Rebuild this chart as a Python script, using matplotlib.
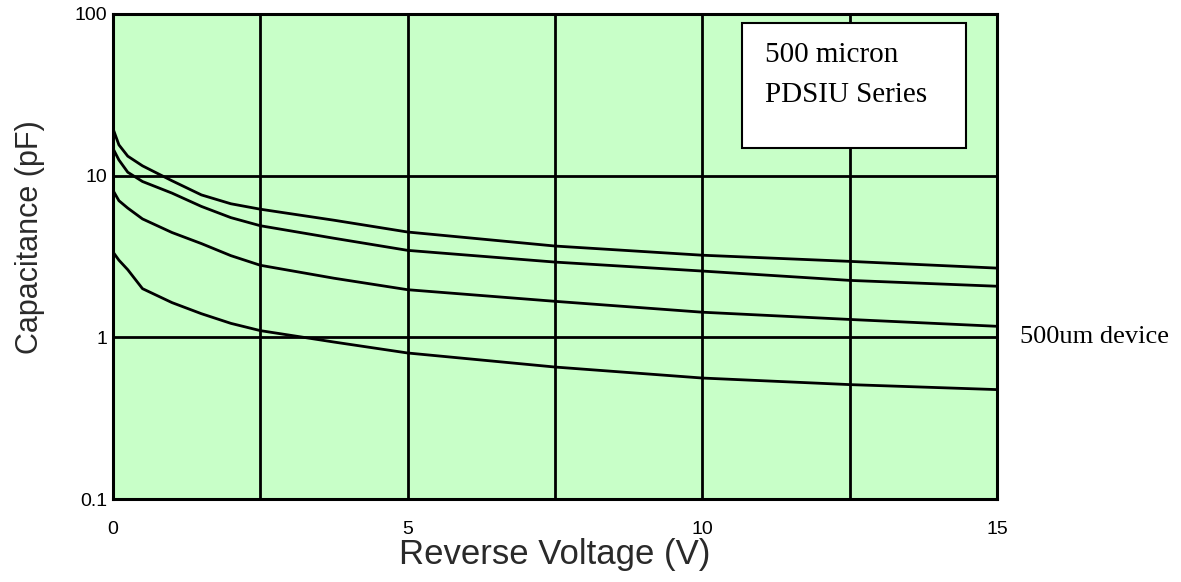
import numpy as np
import matplotlib.pyplot as plt
from matplotlib.patches import Rectangle

# reverse voltage (V) and capacitance (pF)
voltage = [0, 0.1, 0.25, 0.5, 1, 1.5, 2, 2.5, 3.75, 5, 7.5, 10, 12.5, 15]
cap_a = [19.5, 15.5, 13.2, 11.5, 9.3, 7.6, 6.7, 6.2, 5.3, 4.48, 3.67, 3.22, 2.95, 2.68]
cap_b = [14.7, 12.5, 10.5, 9.2, 7.8, 6.45, 5.5, 4.9, 4.1, 3.45, 2.92, 2.57, 2.25, 2.07]
cap_c = [8.1, 7.0, 6.3, 5.4, 4.45, 3.8, 3.2, 2.79, 2.32, 1.97, 1.67, 1.43, 1.29, 1.17]
cap_d = [3.37, 3.0, 2.62, 2.0, 1.64, 1.4, 1.22, 1.1, 0.935, 0.80, 0.655, 0.56, 0.51, 0.475]

x_ticks = [0, 5, 10, 15]
x_grid = [0, 2.5, 5, 7.5, 10, 12.5, 15]
y_ticks = [0.1, 1, 10, 100]
y_labels = ['0.1', '1', '10', '100']

fig = plt.figure(figsize=(11.81, 5.82), dpi=100)
ax = fig.add_axes([0.0957, 0.1426, 0.7485, 0.8334])
ax.set_facecolor('#c8ffc8')

for c in (cap_a, cap_b, cap_c, cap_d):
    ax.plot(voltage, c, color='black', lw=2.0, zorder=3)

ax.set_yscale('log')
ax.set_xlim(0, 15)
ax.set_ylim(0.1, 100)

ax.set_xticks(x_grid, minor=True)
ax.set_xticks(x_ticks)
ax.set_xticklabels([str(t) for t in x_ticks])
ax.set_yticks(y_ticks)
ax.set_yticklabels(y_labels)
ax.yaxis.set_minor_locator(plt.NullLocator())
ax.tick_params(which='both', length=0)
ax.tick_params(axis='x', pad=16, labelsize=14)
ax.tick_params(axis='y', pad=4, labelsize=14)
for lab in ax.get_xticklabels() + ax.get_yticklabels():
    lab.set_family('Liberation Sans')

ax.grid(True, which='both', axis='x', color='black', lw=2.0, zorder=1)
ax.grid(True, which='major', axis='y', color='black', lw=2.0, zorder=1)
ax.set_axisbelow(True)
for s in ax.spines.values():
    s.set_linewidth(2.2)
    s.set_color('black')

ax.set_xlabel('Reverse Voltage (V)', fontsize=25, family='Liberation Sans', color='#2a2a2a')
ax.set_ylabel('Capacitance (pF)', fontsize=22, family='Liberation Sans', color='#2a2a2a')
ax.xaxis.set_label_coords(0.5, -0.08)
ax.yaxis.set_label_coords(-0.094, 0.54)
ax.xaxis.label.set_va('top')
ax.yaxis.label.set_va('center')

# info box
ax.add_patch(Rectangle((0.7115, 0.7237), 0.2535, 0.2573, transform=ax.transAxes,
                       facecolor='white', edgecolor='black', lw=1.5, zorder=5))
ax.text(0.7376, 0.901, '500 micron', transform=ax.transAxes, fontsize=21,
        family='Liberation Serif', va='baseline', zorder=6)
ax.text(0.7376, 0.8186, 'PDSIU Series', transform=ax.transAxes, fontsize=21,
        family='Liberation Serif', va='baseline', zorder=6)

fig.text(0.8637, 0.421, '500um device', fontsize=19, family='Liberation Serif', va='center')

fig.savefig('out.png', dpi=100)
